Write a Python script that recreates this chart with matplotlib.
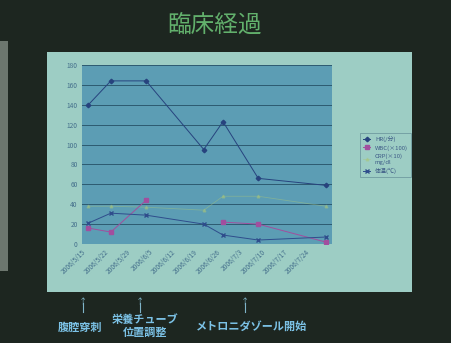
import numpy as np
import matplotlib
matplotlib.use('Agg')
import matplotlib.pyplot as plt
from matplotlib.patches import Rectangle
from matplotlib.lines import Line2D

plt.rcParams['font.family'] = ['Noto Sans CJK JP', 'DejaVu Sans']

# data
dates = np.array(['2006-05-17', '2006-05-24', '2006-06-04', '2006-06-22',
                  '2006-06-28', '2006-07-09', '2006-07-30'], dtype='datetime64[D]')
hr = [140, 164, 164, 95, 123, 66, 59]
wbc = [16, 12, 44, np.nan, 22, 20, 2]
bt = [38, 38, 37, 34, 48, 48, 38]
crp = [21, 31, 29, 20, 9, 4, 7]
series_names = ['HR(/分)', 'WBC(×100)', 'CRP(×10)\nmg/dl', '体温(℃)']

tick_dates = np.arange(np.datetime64('2006-05-15'), np.datetime64('2006-07-25'), 7)
tick_labels = ['2006/5/15', '2006/5/22', '2006/5/29', '2006/6/5', '2006/6/12',
               '2006/6/19', '2006/6/26', '2006/7/3', '2006/7/10', '2006/7/17',
               '2006/7/24']

events = ['腹腔穿刺', '栄養チューブ\n位置調整', 'メトロニダゾール開始']

fig = plt.figure(figsize=(4.52, 3.43), dpi=100)
fig.patch.set_facecolor('#1d2620')

# slide chart area (drawn in a background axes)
bg = fig.add_axes([0, 0, 1, 1], zorder=0)
bg.set_xlim(0, 1)
bg.set_ylim(0, 1)
bg.axis('off')
bg.add_patch(Rectangle((0.104, 0.149), 0.808, 0.699, facecolor='#9dcdc4', edgecolor='none'))
bg.add_patch(Rectangle((0.0, 0.21), 0.018, 0.67, facecolor='#6c766e', edgecolor='none'))

ax = fig.add_axes([0.1814, 0.2886, 0.553, 0.522], zorder=2)
ax.set_facecolor('#5c9db4')
ax.plot(dates, hr, color='#27437e', lw=0.7, marker='D', ms=2.3, label=series_names[0], zorder=3)
ax.plot(dates, wbc, color='#a24e9e', lw=0.7, marker='s', ms=2.3, label=series_names[1], zorder=3)
ax.plot(dates, bt, color='#a9c67a', lw=0.6, marker='^', ms=2, alpha=0.45, label=series_names[2], zorder=2)
ax.plot(dates, crp, color='#2f4d8c', lw=0.7, marker='x', ms=2.3, label=series_names[3], zorder=3)

ax.set_ylim(0, 180)
ax.set_yticks(range(0, 181, 20))
ax.set_xlim(np.datetime64('2006-05-15'), np.datetime64('2006-08-01'))
ax.set_xticks(tick_dates)
ax.set_xticklabels(tick_labels, rotation=45, ha='right', rotation_mode='anchor')
ax.tick_params(labelsize=4.8, colors='#45708c', length=0, pad=3)
ax.grid(axis='y', color='#2d5a70', lw=0.7)
ax.set_axisbelow(True)
for s in ax.spines.values():
    s.set_visible(False)

leg = ax.legend(loc='upper left', bbox_to_anchor=(0.79, 0.621), bbox_transform=fig.transFigure,
                fontsize=4.3, frameon=True, facecolor='#9dcdc4', edgecolor='#6f9aa0',
                framealpha=1, fancybox=False, handlelength=1.2, borderpad=0.5,
                labelcolor='#3d5a86')
leg.get_frame().set_linewidth(0.6)

bg.text(0.475, 0.925, '臨床経過', color='#62b06c', fontsize=17, ha='center', va='center')

# events under the axis
ev_x = [0.184, 0.31, 0.542]
ev_txt = [(0.178, 0.046), (0.32, 0.05), (0.557, 0.048)]
for x in ev_x:
    bg.add_line(Line2D([x, x], [0.09, 0.118], color='#7fb4c8', lw=0.8))
    bg.text(x, 0.122, '↑', color='#7fb4c8', fontsize=6, ha='center', va='center')
for (tx, ty), t in zip(ev_txt, events):
    bg.text(tx, ty, t, color='#7cc2e6', fontsize=8, ha='center', va='center',
            fontweight='bold', linespacing=1.0)

fig.savefig('out.png', dpi=100, facecolor=fig.get_facecolor())
